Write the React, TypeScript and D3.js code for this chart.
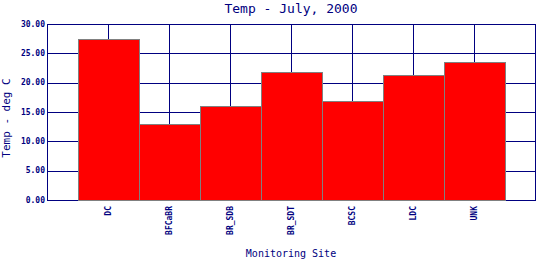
import React from "react";
import * as d3 from "d3";

const categories = ["DC", "BFCaBR", "BR_SDB", "BR_SDT", "BCSC", "LDC", "UNK"];
const values = [27.4, 12.9, 16.0, 21.8, 16.8, 21.25, 23.5];
const yTicks = [0, 5, 10, 15, 20, 25, 30];

const W = 540, H = 260;
const left = 47, right = 535, top = 24, bottom = 200;
const NAVY = "#000080";
const FONT = "'DejaVu Sans Mono', monospace";

export default function App() {
  const x = d3.scaleLinear().domain([0, categories.length + 1]).range([left, right]);
  const y = d3.scaleLinear().domain([0, 30]).range([bottom, top]);
  const fmt = d3.format(".2f");
  return (
    <svg width={W} height={H} style={{ position: "absolute", left: 0, top: 0, background: "#fff" }}>
      <rect x={0} y={0} width={W} height={H} fill="#fff" />
      {yTicks.map((t) => (
        <line key={"h" + t} x1={left} x2={right} y1={Math.round(y(t)) + 0.5} y2={Math.round(y(t)) + 0.5} stroke={NAVY} strokeWidth={1} />
      ))}
      {categories.map((c, i) => (
        <line key={"v" + c} x1={Math.round(x(i + 1)) + 0.5} x2={Math.round(x(i + 1)) + 0.5} y1={top} y2={bottom} stroke={NAVY} strokeWidth={1} />
      ))}
      <rect x={left + 0.5} y={top + 0.5} width={right - left} height={bottom - top} fill="none" stroke={NAVY} strokeWidth={1} />
      {values.map((v, i) => (
        <rect key={categories[i]} x={Math.round(x(i + 0.5)) + 0.5} y={Math.round(y(v)) + 0.5}
          width={Math.round(x(i + 1.5)) - Math.round(x(i + 0.5))} height={Math.round(y(0)) - Math.round(y(v))}
          fill="#ff0000" stroke="#808080" strokeWidth={1} />
      ))}
      {yTicks.map((t) => (
        <text key={"yl" + t} x={left - 2} y={y(t)} dy="0.35em" textAnchor="end" fontFamily={FONT} fontSize={8} fontWeight="bold" fill={NAVY}>{fmt(t)}</text>
      ))}
      {categories.map((c, i) => (
        <text key={"xl" + c} transform={`translate(${x(i + 1)},${bottom + 6}) rotate(-90)`} dy="0.35em" textAnchor="end" fontFamily={FONT} fontSize={8} fontWeight="bold" fill={NAVY}>{c}</text>
      ))}
      <text x={(left + right) / 2} y={13} textAnchor="middle" fontFamily={FONT} fontSize={13} fill={NAVY}>Temp - July, 2000</text>
      <text x={(left + right) / 2} y={257} textAnchor="middle" fontFamily={FONT} fontSize={10} fill={NAVY}>Monitoring Site</text>
      <text transform={`translate(10,118) rotate(-90)`} textAnchor="middle" fontFamily={FONT} fontSize={11} fill={NAVY}>Temp - deg C</text>
    </svg>
  );
}
